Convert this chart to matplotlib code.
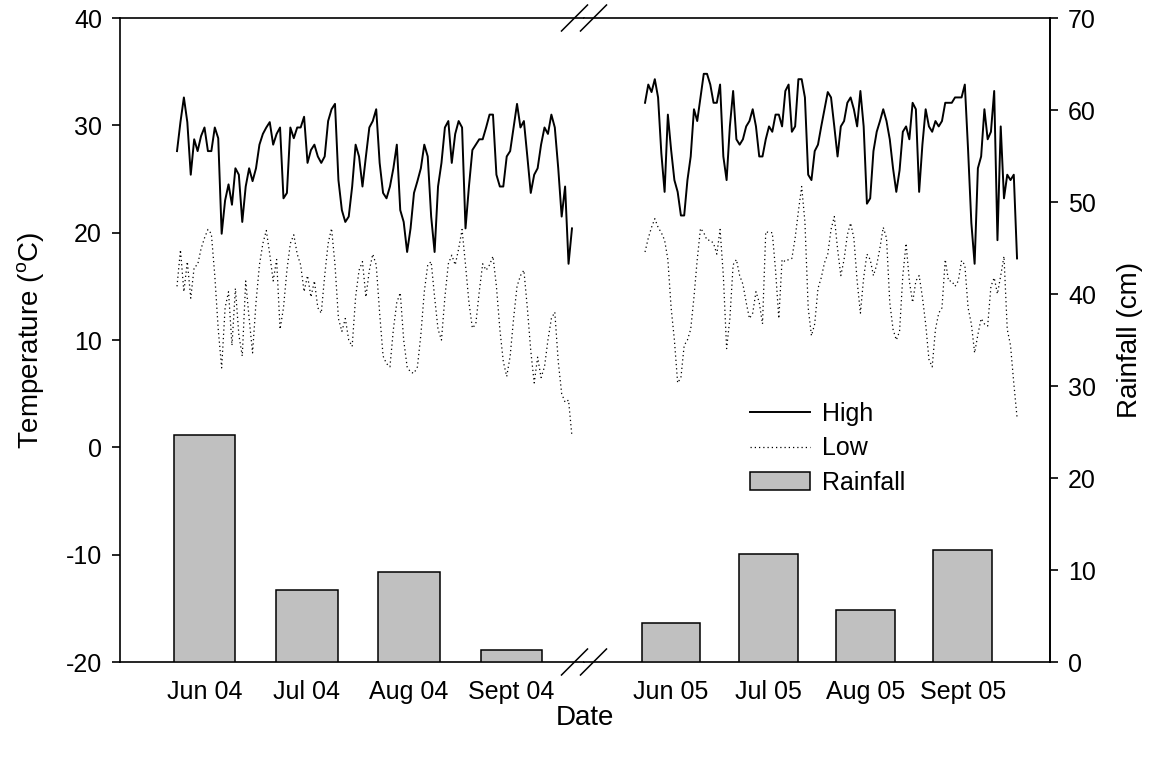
import numpy as np
import matplotlib.pyplot as plt
from matplotlib.lines import Line2D

plt.rcParams['font.family'] = ['Liberation Sans', 'DejaVu Sans']
plt.rcParams['mathtext.fontset'] = 'custom'
plt.rcParams['mathtext.rm'] = 'Liberation Sans'
plt.rcParams['axes.unicode_minus'] = False

# daily highs / lows (C), Jun-Sept 2004 and Jun-Sept 2005
high_04 = [27.6, 30.3, 32.6, 30.3, 25.4, 28.7, 27.6, 29.0, 29.8, 27.6, 27.6, 29.8, 28.8, 19.9, 23.0, 24.5,
           22.6, 26.0, 25.4, 21.0, 24.3, 26.0, 24.8, 26.0, 28.2, 29.2, 29.8, 30.3, 28.2, 29.2, 29.8, 23.2,
           23.7, 29.8, 28.8, 29.8, 29.8, 30.8,
           26.5, 27.7, 28.2, 27.1, 26.5, 27.1, 30.4, 31.5, 32.0, 24.9, 22.1, 21.0, 21.5, 24.3, 28.2, 27.1,
           24.3, 27.1, 29.8, 30.4, 31.5, 26.5, 23.7, 23.2, 24.3, 26.0, 28.2, 22.1, 21.0, 18.2, 20.4, 23.7,
           24.8, 26.0, 28.2, 27.1, 21.5, 18.2, 24.3, 26.5,
           29.8, 30.4, 26.5, 29.2, 30.4, 29.8, 20.4, 24.3, 27.7, 28.2, 28.7, 28.7, 29.8, 31.0, 31.0, 25.4,
           24.3, 24.3, 27.1, 27.6, 29.8, 32.0, 29.8, 30.4, 27.1, 23.7, 25.4, 26.0, 28.2, 29.8, 29.2, 31.0,
           29.8, 26.0, 21.5, 24.3, 17.1, 20.4]
low_04 = [15.0, 18.4, 14.5, 17.3, 13.9, 16.8, 17.0, 18.5, 19.5, 20.3, 19.9, 16.0, 11.0, 7.4, 13.0, 14.5,
          9.5, 14.8, 10.5, 8.5, 15.5, 12.0, 8.8, 13.5, 17.0, 19.0, 20.2, 18.0, 15.5, 17.5, 11.0, 13.0,
          16.5, 19.0, 19.8, 18.0, 17.0, 14.5,
          16.0, 14.0, 15.5, 13.0, 12.5, 16.0, 19.0, 20.4, 17.0, 12.0, 10.8, 12.0, 10.0, 9.4, 14.0, 16.5,
          17.3, 14.0, 16.5, 18.0, 17.0, 12.5, 8.5, 7.8, 7.5, 11.0, 13.5, 14.4, 10.0, 7.5, 7.0, 6.9,
          7.5, 10.5, 14.5, 17.0, 17.3, 14.0, 11.0, 10.0,
          14.0, 17.1, 17.9, 17.0, 18.5, 20.3, 17.0, 13.5, 11.1, 11.5, 14.5, 17.1, 16.5, 17.0, 17.8, 15.0,
          11.0, 8.0, 6.6, 8.5, 12.0, 15.0, 16.0, 16.5, 13.0, 9.0, 6.0, 8.4, 6.5, 7.5, 10.0, 12.0,
          12.6, 8.0, 5.0, 4.2, 4.4, 1.0]
high_05 = [32.1, 33.8, 33.1, 34.3, 32.6, 27.4, 23.8, 31.0, 27.7, 24.9, 23.8, 21.6, 21.6, 24.9, 27.1, 31.5,
           30.4, 32.6, 34.8, 34.8, 33.8, 32.1, 32.1, 33.8, 27.1, 24.9, 29.9, 33.2, 28.7, 28.2, 28.7, 29.9,
           30.4, 31.5, 29.9, 27.1, 27.1, 28.7,
           29.9, 29.4, 31.0, 31.0, 29.9, 33.2, 33.8, 29.4, 29.9, 34.3, 34.3, 32.6, 25.4, 24.9, 27.6, 28.2,
           29.9, 31.5, 33.1, 32.6, 29.9, 27.1, 29.9, 30.4, 32.1, 32.6, 31.5, 29.9, 33.2, 29.9, 22.7, 23.2,
           27.6, 29.4, 30.4, 31.5, 30.4, 28.7, 26.0, 23.8,
           25.8, 29.4, 29.9, 28.7, 32.1, 31.5, 23.8, 28.2, 31.5, 29.9, 29.4, 30.4, 29.9, 30.4, 32.1, 32.1,
           32.1, 32.6, 32.6, 32.6, 33.8, 27.7, 20.9, 17.1, 26.0, 27.1, 31.5, 28.7, 29.4, 33.2, 19.3, 29.9,
           23.2, 25.4, 24.9, 25.4, 17.6]
low_05 = [18.2, 19.5, 20.5, 21.3, 20.5, 20.0, 19.3, 17.5, 13.0, 10.0, 6.0, 6.5, 9.5, 10.0, 11.0, 14.0,
          17.5, 20.4, 20.0, 19.3, 19.3, 19.0, 18.0, 20.3, 16.0, 9.2, 12.0, 17.0, 17.5, 16.0, 15.2, 13.5,
          12.0, 12.5, 14.5, 13.5, 11.5, 20.1,
          20.0, 20.0, 16.5, 12.0, 17.5, 17.3, 17.5, 17.6, 19.5, 22.0, 24.3, 21.0, 13.0, 10.4, 11.5, 14.8,
          15.8, 17.2, 18.0, 20.3, 21.5, 18.5, 16.0, 17.5, 19.8, 20.9, 19.5, 15.5, 12.5, 15.8, 18.0, 17.5,
          16.0, 17.0, 18.6, 20.5, 19.5, 13.5, 11.0, 10.0, 10.8,
          16.0, 19.0, 15.5, 13.5, 15.5, 16.0, 14.0, 11.5, 8.2, 7.5, 11.0, 12.5, 13.0, 17.5, 15.5, 15.5,
          15.0, 15.5, 17.4, 17.0, 13.0, 11.5, 8.8, 10.5, 12.0, 11.5, 11.3, 15.0, 15.8, 14.3, 16.0, 17.8,
          11.0, 9.5, 6.0, 2.8]

# monthly rainfall (cm)
months_04 = ['Jun 04', 'Jul 04', 'Aug 04', 'Sept 04']
months_05 = ['Jun 05', 'Jul 05', 'Aug 05', 'Sept 05']
rain_04 = [24.7, 7.8, 9.8, 1.3]
rain_05 = [4.2, 11.7, 5.7, 12.2]

bar_day = 8 + 29.8 * np.arange(4)   # where each month's bar sits on the day axis

fig = plt.figure(figsize=(11.62, 7.61), dpi=100)
ax1 = fig.add_axes([0.10327, 0.13009, 0.39931, 0.84625])
ax2 = fig.add_axes([0.50258, 0.13009, 0.40103, 0.84625])
r1 = ax1.twinx()
r2 = ax2.twinx()

panels = [(ax1, r1, high_04, low_04, rain_04, months_04, (-16.6, 118.5)),
          (ax2, r2, high_05, low_05, rain_05, months_05, (-18.7, 124.1))]

for ax, r, hi, lo, rain, labels, xl in panels:
    h_line, = ax.plot(np.arange(len(hi)), hi, color='black', lw=1.4, label='High')
    l_line, = ax.plot(np.arange(len(lo)), lo, color='black', lw=0.9,
                      linestyle=(0, (1, 2.4)), label='Low')
    bars = r.bar(bar_day, rain, width=18, color='#c0c0c0', edgecolor='black', lw=1.1,
                 label='Rainfall')
    ax.set_xlim(xl)
    ax.set_ylim(-20, 40)
    r.set_ylim(0, 70)
    ax.set_xticks(bar_day, labels)
    ax.tick_params(axis='x', length=0, pad=13, labelsize=18)
    r.tick_params(axis='x', length=0)
    for s in ax.spines.values():
        s.set_linewidth(1.2)
    for s in r.spines.values():
        s.set_visible(False)

# left axis (temperature)
ax1.spines['right'].set_visible(False)
ax1.set_yticks(range(-20, 41, 10))
ax1.tick_params(axis='y', direction='out', length=6, width=1.2, pad=7, labelsize=18)
r1.set_yticks([])

# right axis (rainfall)
ax2.spines['left'].set_visible(False)
ax2.set_yticks([])
r2.spines['right'].set_visible(True)
r2.spines['right'].set_linewidth(1.2)
r2.set_yticks(range(0, 71, 10))
r2.tick_params(axis='y', direction='out', length=6, width=1.2, pad=7, labelsize=18)

# axis break marks on top and bottom spines
p = ax1.get_position()
for yb in (p.y0, p.y1):
    for dx in (-9.5, 9.5):
        xc = p.x1 + dx / 1162
        fig.add_artist(Line2D([xc - 13 / 1162, xc + 13 / 1162], [yb - 13 / 761, yb + 13 / 761],
                              transform=fig.transFigure, color='black', lw=1.1))

fig.text(0.027, 0.553, 'Temperature ($^\\mathrm{o}$C)', rotation=90, ha='center', va='center', fontsize=20)
fig.text(0.9725, 0.553, 'Rainfall (cm)', rotation=90, ha='center', va='center', fontsize=20)
fig.text(0.5034, 0.056, 'Date', ha='center', va='center', fontsize=20)

fig.legend(handles=[h_line, l_line, bars], loc='upper left', bbox_to_anchor=(0.6454, 0.472),
           frameon=False, fontsize=18, handlelength=2.4, handletextpad=0.5,
           labelspacing=0.42, borderpad=0, borderaxespad=0)

fig.savefig('out.png', dpi=100)
